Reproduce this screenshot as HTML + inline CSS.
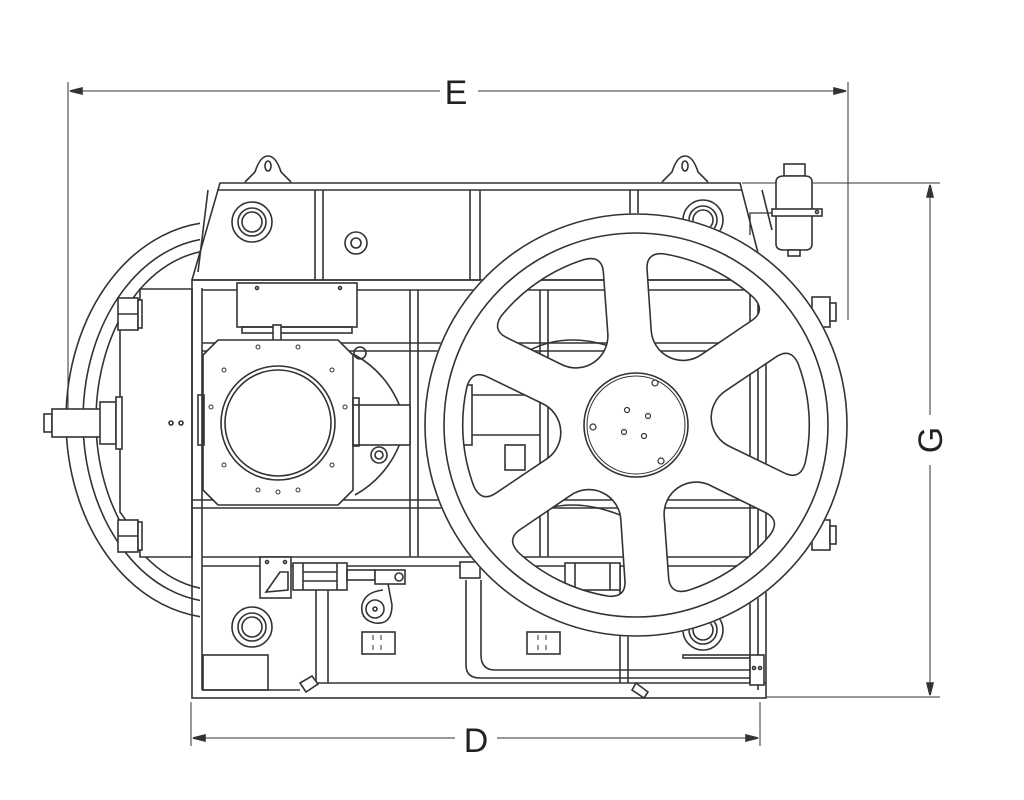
<!DOCTYPE html>
<html><head><meta charset="utf-8"><style>
html,body{margin:0;padding:0;background:#fff;}
svg{display:block;}
text{font-family:"Liberation Sans",sans-serif;fill:#222;}
</style></head><body>
<svg width="1024" height="800" viewBox="0 0 1024 800" xmlns="http://www.w3.org/2000/svg">
<defs>
<clipPath id="leftc"><rect x="0" y="0" width="200" height="800"/></clipPath>
<path id="op" d="M92,-28 L146,-59 Q160,-66 166,-50 A175 175 0 0 1 166,50 Q160,66 146,59 L92,28 A32 32 0 0 1 92,-28 Z"/>
<mask id="wm">
<circle cx="636" cy="425" r="212" fill="#fff"/>
<g transform="translate(636,425) rotate(-4)" fill="#000">
<use href="#op"/><use href="#op" transform="rotate(60)"/><use href="#op" transform="rotate(120)"/>
<use href="#op" transform="rotate(180)"/><use href="#op" transform="rotate(240)"/><use href="#op" transform="rotate(300)"/>
</g>
</mask>
</defs>
<g fill="none" stroke="#333" stroke-width="1.6">
<!-- dimension E -->
<line x1="68" y1="82" x2="68" y2="410" stroke-width="1"/>
<line x1="848" y1="82" x2="848" y2="320" stroke-width="1"/>
<line x1="72" y1="91" x2="440" y2="91" stroke-width="1"/>
<line x1="478" y1="91" x2="844" y2="91" stroke-width="1"/>
<path d="M70,91 l12,-3 v6 z M846,91 l-12,-3 v6 z" fill="#333"/>
<!-- dimension G -->
<line x1="742" y1="183" x2="940" y2="183" stroke-width="1"/>
<line x1="766" y1="697" x2="940" y2="697" stroke-width="1"/>
<line x1="930" y1="186" x2="930" y2="415" stroke-width="1"/>
<line x1="930" y1="465" x2="930" y2="694" stroke-width="1"/>
<path d="M930,185 l-3,12 h6 z M930,695 l-3,-12 h6 z" fill="#333"/>
<!-- dimension D -->
<line x1="191" y1="702" x2="191" y2="746" stroke-width="1"/>
<line x1="760" y1="702" x2="760" y2="746" stroke-width="1"/>
<line x1="194" y1="738" x2="455" y2="738" stroke-width="1"/>
<line x1="497" y1="738" x2="757" y2="738" stroke-width="1"/>
<path d="M193,738 l12,-3 v6 z M758,738 l-12,-3 v6 z" fill="#333"/>

<!-- left rings -->
<g clip-path="url(#leftc)">
<ellipse cx="218" cy="420" rx="152" ry="198"/>
<ellipse cx="218" cy="420" rx="135" ry="182"/>
<ellipse cx="218" cy="420" rx="122" ry="170"/>
</g>
<!-- left block -->
<path d="M140,289 H192 V557 H140 V540 L120,512 V330 L140,305 Z" fill="#fff"/>
<rect x="118" y="298" width="20" height="32" fill="#fff"/>
<line x1="118" y1="314" x2="138" y2="314"/>
<rect x="138" y="300" width="4" height="28" fill="#fff"/>
<rect x="118" y="520" width="20" height="32" fill="#fff"/>
<line x1="118" y1="536" x2="138" y2="536"/>
<rect x="138" y="522" width="4" height="28" fill="#fff"/>
<rect x="44" y="414" width="8" height="18"/>
<rect x="52" y="409" width="50" height="28" fill="#fff"/>
<rect x="100" y="402" width="16" height="42" fill="#fff"/>
<rect x="116" y="397" width="6" height="52" fill="#fff"/>
<circle cx="171" cy="423" r="2"/><circle cx="181" cy="423" r="2"/>

<!-- housing -->
<path d="M220,183 H740 L765,280 H192 Z" fill="#fff"/>
<line x1="217" y1="190" x2="742" y2="190"/>
<line x1="315" y1="190" x2="315" y2="280"/><line x1="323" y1="190" x2="323" y2="280"/>
<line x1="470" y1="190" x2="470" y2="280"/><line x1="480" y1="190" x2="480" y2="280"/>
<line x1="630" y1="190" x2="630" y2="280"/><line x1="638" y1="190" x2="638" y2="280"/>
<line x1="208" y1="190" x2="198" y2="272"/>
<!-- lift eyes -->
<path d="M245,182 L255,172 Q260,156 268,156 Q276,156 281,172 L291,182" fill="#fff"/>
<ellipse cx="268" cy="166" rx="3" ry="5"/>
<path d="M662,182 L672,172 Q677,156 685,156 Q693,156 698,172 L708,182" fill="#fff"/>
<ellipse cx="685" cy="166" rx="3" ry="5"/>
<!-- bolt circles -->
<g fill="#fff">
<circle cx="252" cy="222" r="20"/><circle cx="252" cy="222" r="14"/><circle cx="252" cy="222" r="10"/>
<circle cx="703" cy="220" r="20"/><circle cx="703" cy="220" r="14"/><circle cx="703" cy="220" r="10"/>
<circle cx="252" cy="627" r="20"/><circle cx="252" cy="627" r="14"/><circle cx="252" cy="627" r="10"/>
<circle cx="703" cy="630" r="20"/><circle cx="703" cy="630" r="14"/><circle cx="703" cy="630" r="10"/>
<circle cx="356" cy="243" r="11"/><circle cx="356" cy="243" r="5"/>
</g>

<!-- frame -->
<rect x="192" y="280" width="574" height="418"/>
<line x1="202" y1="288" x2="202" y2="690"/>
<line x1="202" y1="290" x2="766" y2="290"/>
<line x1="202" y1="343" x2="766" y2="343"/>
<line x1="202" y1="351" x2="766" y2="351"/>
<line x1="192" y1="500" x2="766" y2="500"/>
<line x1="192" y1="508" x2="766" y2="508"/>
<line x1="202" y1="557" x2="766" y2="557"/>
<line x1="202" y1="566" x2="766" y2="566"/>
<line x1="202" y1="690" x2="300" y2="690"/>
<line x1="315" y1="683" x2="766" y2="683"/>
<line x1="410" y1="290" x2="410" y2="557"/><line x1="418" y1="290" x2="418" y2="557"/>
<line x1="750" y1="290" x2="750" y2="683"/><line x1="758" y1="290" x2="758" y2="690"/>
<line x1="540" y1="290" x2="540" y2="557"/><line x1="548" y1="290" x2="548" y2="557"/>
<line x1="316" y1="590" x2="316" y2="683"/><line x1="328" y1="590" x2="328" y2="683"/>
<line x1="620" y1="566" x2="620" y2="683"/><line x1="628" y1="566" x2="628" y2="683"/>
<rect x="203" y="655" width="65" height="35"/>
<path d="M300,683 L312,676 L318,684 L306,692 Z" fill="#fff"/>
<path d="M636,683 L648,692 L644,698 L632,690 Z" fill="#fff"/>
<!-- upper box -->
<rect x="237" y="283" width="120" height="44" fill="#fff"/>
<rect x="242" y="327" width="110" height="6"/>
<rect x="273" y="325" width="8" height="22" fill="#fff"/>
<circle cx="257" cy="288" r="1.5"/><circle cx="340" cy="288" r="1.5"/>
<!-- octagon area -->
<path d="M355,355 A100 100 0 0 1 405,425 A100 100 0 0 1 355,495" />
<rect x="350" y="405" width="60" height="40" fill="#fff"/>
<circle cx="379" cy="455" r="8"/><circle cx="379" cy="455" r="4"/>
<circle cx="360" cy="353" r="6"/>
<path d="M218,340 H338 L353,355 V490 L338,505 H218 L203,490 V355 Z" fill="#fff"/>
<circle cx="278" cy="423" r="57"/><circle cx="278" cy="423" r="53"/>
<g stroke-width="1">
<circle cx="258" cy="347" r="2"/><circle cx="298" cy="347" r="2"/>
<circle cx="224" cy="370" r="2"/><circle cx="332" cy="370" r="2"/>
<circle cx="211" cy="407" r="2"/><circle cx="345" cy="407" r="2"/>
<circle cx="224" cy="465" r="2"/><circle cx="332" cy="465" r="2"/>
<circle cx="258" cy="490" r="2"/><circle cx="278" cy="492" r="2"/><circle cx="298" cy="490" r="2"/>
</g>
<rect x="198" y="395" width="6" height="50"/>
<rect x="353" y="398" width="6" height="48"/>
<!-- lower mechanism -->
<rect x="260" y="557" width="31" height="41" fill="#fff"/>
<path d="M266,592 L280,572 L288,572 L288,590 Z"/>
<circle cx="267" cy="562" r="1.5"/><circle cx="285" cy="562" r="1.5"/>
<rect x="293" y="563" width="54" height="27" fill="#fff"/>
<line x1="303" y1="563" x2="303" y2="590"/><line x1="337" y1="563" x2="337" y2="590"/>
<line x1="303" y1="572" x2="337" y2="572"/><line x1="303" y1="581" x2="337" y2="581"/>
<rect x="347" y="570" width="28" height="10"/>
<rect x="375" y="570" width="30" height="14" fill="#fff"/>
<circle cx="399" cy="577" r="4"/>
<path d="M388,584 L392,605 Q392,625 375,623 Q360,620 362,605 Q365,592 383,590" fill="#fff"/>
<circle cx="375" cy="609" r="9"/><circle cx="375" cy="609" r="2"/>
<rect x="362" y="632" width="33" height="22"/>
<g stroke-width="1"><line x1="373" y1="635" x2="373" y2="640"/><line x1="381" y1="635" x2="381" y2="640"/><line x1="373" y1="645" x2="373" y2="650"/><line x1="381" y1="645" x2="381" y2="650"/></g>
<rect x="527" y="632" width="33" height="22"/>
<g stroke-width="1"><line x1="538" y1="635" x2="538" y2="640"/><line x1="546" y1="635" x2="546" y2="640"/><line x1="538" y1="645" x2="538" y2="650"/><line x1="546" y1="645" x2="546" y2="650"/></g>
<rect x="460" y="562" width="20" height="16" fill="#fff"/>
<path d="M466,580 V665 Q466,678 480,678 H750"/>
<path d="M481,580 V655 Q481,670 495,670 H750"/>
<rect x="683" y="655" width="67" height="3"/>
<rect x="750" y="655" width="14" height="30" fill="#fff"/>
<circle cx="754" cy="668" r="1.5"/><circle cx="760" cy="668" r="1.5"/>
<rect x="565" y="563" width="55" height="27" fill="#fff"/>
<line x1="575" y1="563" x2="575" y2="590"/><line x1="610" y1="563" x2="610" y2="590"/>
<!-- rails behind wheel area -->
<rect x="505" y="445" width="20" height="25"/>
<rect x="460" y="385" width="12" height="60"/>
<line x1="472" y1="395" x2="540" y2="395"/><line x1="472" y1="435" x2="540" y2="435"/>
<path d="M530,350 Q570,330 620,350"/>
<path d="M530,515 Q570,495 620,515"/>
<!-- right bolts -->
<rect x="812" y="297" width="18" height="30" fill="#fff"/><rect x="830" y="303" width="6" height="18" fill="#fff"/>
<rect x="812" y="520" width="18" height="30" fill="#fff"/><rect x="830" y="526" width="6" height="18" fill="#fff"/>
<!-- oil cup -->
<path d="M750,235 V213 H790" stroke-width="1.3"/>
<rect x="784" y="164" width="21" height="12" fill="#fff"/>
<path d="M776,182 Q776,176 784,176 H805 Q812,176 812,182 V244 Q812,250 805,250 H784 Q776,250 776,244 Z" fill="#fff"/>
<rect x="788" y="250" width="12" height="6" fill="#fff"/>
<rect x="772" y="209" width="50" height="7" fill="#fff"/>
<circle cx="817" cy="212" r="1.5"/>
<line x1="762" y1="190" x2="772" y2="230"/>

<!-- big wheel -->
<circle cx="636" cy="425" r="212" fill="#fff" stroke="none" mask="url(#wm)"/>
<circle cx="636" cy="425" r="211"/>
<circle cx="636" cy="425" r="192"/>
<g transform="translate(636,425) rotate(-4)">
<use href="#op"/><use href="#op" transform="rotate(60)"/><use href="#op" transform="rotate(120)"/>
<use href="#op" transform="rotate(180)"/><use href="#op" transform="rotate(240)"/><use href="#op" transform="rotate(300)"/>
</g>
<circle cx="636" cy="425" r="52"/>
<circle cx="636" cy="425" r="49" stroke-width="1"/>
<g stroke-width="1.2">
<circle cx="655" cy="383" r="3"/><circle cx="593" cy="427" r="3"/><circle cx="661" cy="461" r="3"/>
<circle cx="627" cy="410" r="2.5"/><circle cx="648" cy="416" r="2.5"/><circle cx="624" cy="432" r="2.5"/><circle cx="644" cy="436" r="2.5"/>
</g>
</g>
<text x="456" y="104" font-size="34" text-anchor="middle">E</text>
<text x="476" y="752" font-size="34" text-anchor="middle">D</text>
<text x="0" y="0" font-size="34" text-anchor="middle" transform="translate(942,440) rotate(-90)">G</text>
</svg>
</body></html>
